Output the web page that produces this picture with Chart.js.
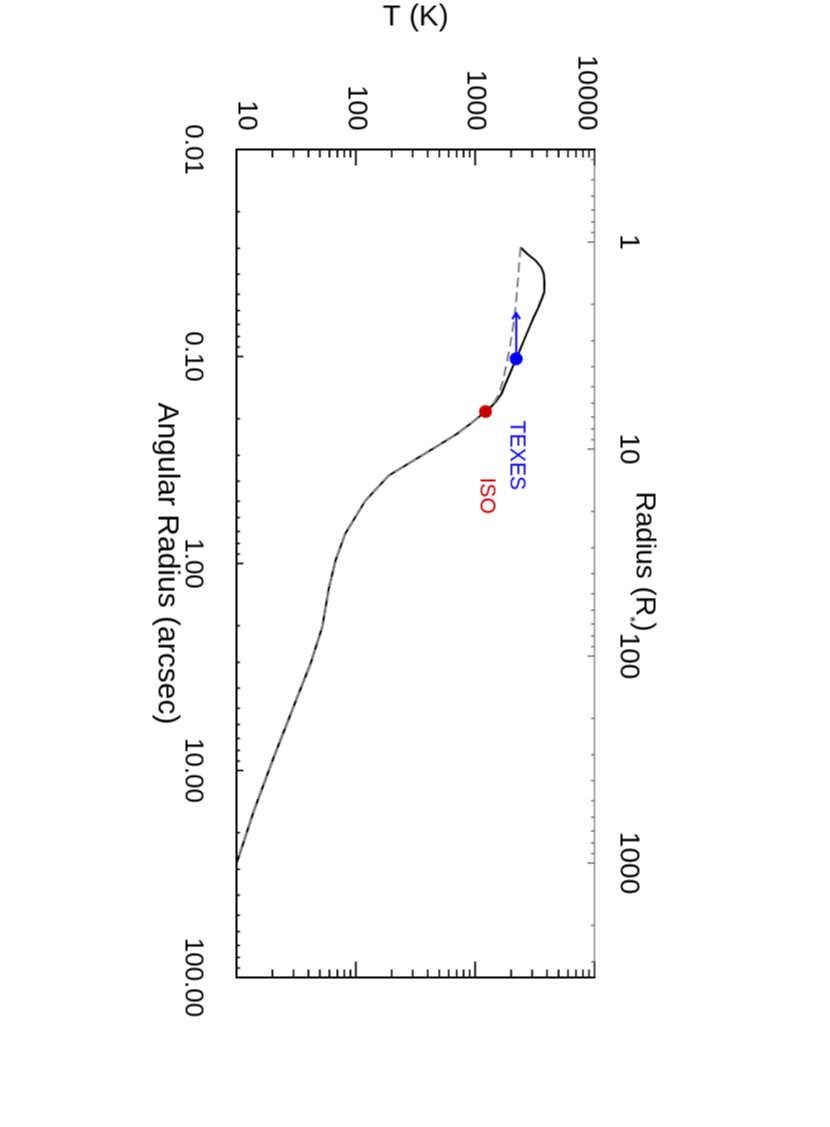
<!DOCTYPE html>
<html>
<head>
<meta charset="utf-8">
<script src="https://cdn.jsdelivr.net/npm/chart.js@4.4.1/dist/chart.umd.min.js"></script>
<style>
  html, body { margin: 0; padding: 0; background: #ffffff; overflow: hidden; width: 830px; height: 1127px; }
  #wrap { position: absolute; left: -148.5px; top: 148.5px; width: 1127px; height: 830px;
          transform: rotate(90deg); transform-origin: 50% 50%; background: #ffffff; }
</style>
</head>
<body>
<div id="wrap"><canvas id="chart" width="1127" height="830"></canvas></div>
<script>
// ---------------- data ----------------
// solid model temperature profile: angular radius (arcsec) vs T (K)
const solidRadius = [0.0297, 0.0319, 0.0344, 0.0371, 0.0398, 0.0437, 0.0489, 0.0520, 0.0573, 0.0646,
                     0.0734, 0.0837, 0.0935, 0.1026, 0.119, 0.1356, 0.1514, 0.1663, 0.1758, 0.1845,
                     0.2113, 0.236, 0.278, 0.3757, 0.4963, 0.716, 0.967, 1.325, 2.03, 3.05,
                     4.43, 8.63, 15.6, 27.7];
const solidTemp   = [2399, 2729, 3206, 3573, 3758, 3811, 3793, 3646, 3414, 3097,
                     2816, 2557, 2366, 2207, 1977, 1795, 1663, 1480, 1346, 1222,
                     914, 707, 448, 189, 120.5, 81.8, 67.6, 59.4, 52.3, 41.7,
                     32.3, 20.5, 14.0, 10.1];
// dashed (grey) alternative profile
const dashedRadius = [0.0297, 0.0414, 0.0517, 0.0622, 0.0749, 0.0901, 0.1084, 0.1306, 0.1513, 0.1663,
                      0.1845, 0.2113, 0.236, 0.278, 0.3757, 0.4963, 0.716, 0.967, 1.325, 2.03,
                      3.05, 4.43, 8.63, 15.6, 27.7];
const dashedTemp   = [2399, 2295, 2220, 2148, 2055, 1951, 1830, 1718, 1578, 1452,
                      1222, 914, 707, 448, 189, 120.5, 81.8, 67.6, 59.4, 52.3,
                      41.7, 32.3, 20.5, 14.0, 10.1];
// measurements
const texesRadius = [0.1026];
const texesTemp   = [2207];
const isoRadius   = [0.1845];
const isoTemp     = [1222];
// TEXES lower-limit arrow (towards smaller radius)
const arrowRadius = [0.1026, 0.0617];
const arrowTemp   = [2207, 2207];
// annotation labels and their anchors (data coordinates)
const noteTexts   = ['TEXES', 'ISO'];
const noteRadius  = [0.204, 0.384];
const noteTemp    = [1977, 1108];
// axes
const angularTickValues = [0.01, 0.1, 1, 10, 100];
const angularTickLabels = ['0.01', '0.10', '1.00', '10.00', '100.00'];
const tempTickValues    = [10, 100, 1000, 10000];
const tempTickLabels    = ['10', '100', '1000', '10000'];
const radiusTickValues  = [1, 10, 100, 1000];
const radiusTickLabels  = ['1', '10', '100', '1000'];
const arcsecPerRstar    = 0.028;   // 1 R* in arcsec
const angularRange      = [0.01, 100];
const tempRange         = [10, 10000];

// ---------------- fonts ----------------
const probe = document.createElement('canvas').getContext('2d');
probe.font = '100px "Liberation Sans Narrow", monospace';
const wN = probe.measureText('10000 TEXES').width;
probe.font = '100px monospace';
const wM = probe.measureText('10000 TEXES').width;
const hasNarrow = Math.abs(wN - wM) > 1;
const REG = '"Liberation Sans", Arial, Helvetica, sans-serif';
const NAR = hasNarrow ? '"Liberation Sans Narrow", "Liberation Sans", Arial, sans-serif' : REG;
const NS = hasNarrow ? 1 : 0.85;
Chart.defaults.font.family = REG;
Chart.defaults.color = '#000000';

// ---------------- helpers ----------------
const zip = (xs, ys) => xs.map((x, i) => ({ x: x, y: ys[i] }));
function logTicks(min, max) {
  const out = [];
  const e0 = Math.floor(Math.log10(min)), e1 = Math.ceil(Math.log10(max));
  for (let e = e0; e <= e1; e++) {
    for (let m = 1; m <= 9; m++) {
      const v = m * Math.pow(10, e);
      if (v >= min * (1 - 1e-9) && v <= max * (1 + 1e-9)) out.push({ value: v, major: m === 1 });
    }
  }
  return out;
}
function lookup(values, labels, v) {
  const i = values.findIndex(t => Math.abs(t - v) / t < 1e-6);
  return i < 0 ? '' : labels[i];
}

// ---------------- frame / ticks / annotations plugin ----------------
const framePlugin = {
  id: 'frame',
  afterDatasetsDraw(chart) {
    const { ctx, chartArea: a, scales } = chart;
    const sx = scales.x, sy = scales.y, sx2 = scales.x2;
    ctx.save();
    ctx.lineCap = 'butt';
    // inward tick marks, black axes
    ctx.strokeStyle = '#000000';
    ctx.lineWidth = 1.6;
    ctx.beginPath();
    sx.ticks.forEach(t => {
      const p = sx.getPixelForValue(t.value), L = t.major ? 7 : 3.5;
      ctx.moveTo(p, a.bottom); ctx.lineTo(p, a.bottom - L);
    });
    sy.ticks.forEach(t => {
      const p = sy.getPixelForValue(t.value), L = t.major ? 16 : 8;
      ctx.moveTo(a.left, p); ctx.lineTo(a.left + L, p);
      ctx.moveTo(a.right, p); ctx.lineTo(a.right - L, p);
    });
    ctx.stroke();
    // top (R*) axis in grey
    ctx.strokeStyle = '#555555';
    ctx.lineWidth = 1.2;
    ctx.beginPath();
    sx2.ticks.forEach(t => {
      const p = sx2.getPixelForValue(t.value), L = t.major ? 7 : 3.5;
      ctx.moveTo(p, a.top); ctx.lineTo(p, a.top + L);
    });
    ctx.moveTo(a.left, a.top); ctx.lineTo(a.right, a.top);
    ctx.stroke();
    // black frame
    ctx.strokeStyle = '#000000';
    ctx.lineWidth = 2;
    ctx.beginPath();
    ctx.moveTo(a.left, a.top - 1); ctx.lineTo(a.left, a.bottom);
    ctx.lineTo(a.right, a.bottom); ctx.lineTo(a.right, a.top - 1);
    ctx.stroke();

    // arrow head at the end of the TEXES arrow
    const tipX = sx.getPixelForValue(arrowRadius[1]);
    const tipY = sy.getPixelForValue(arrowTemp[1]);
    ctx.strokeStyle = '#0000ff';
    ctx.lineWidth = 2;
    ctx.beginPath();
    ctx.moveTo(tipX + 6, tipY - 4); ctx.lineTo(tipX, tipY); ctx.lineTo(tipX + 6, tipY + 4);
    ctx.stroke();

    // annotation texts
    const noteColors = ['#0000ff', '#cc0000'];
    ctx.textAlign = 'left';
    ctx.textBaseline = 'alphabetic';
    ctx.font = (25 * NS) + 'px ' + NAR;
    noteTexts.forEach((txt, i) => {
      ctx.fillStyle = noteColors[i];
      ctx.fillText(txt, sx.getPixelForValue(noteRadius[i]), sy.getPixelForValue(noteTemp[i]));
    });

    // top axis title  "Radius (R*)"  with subscript asterisk
    const F = 33 * NS;
    const cx = (a.left + a.right) / 2 - 2, base = 194;
    ctx.fillStyle = '#000000';
    const p1 = 'Radius (R', p2 = '*', p3 = ')';
    ctx.font = F + 'px ' + NAR;
    const w1 = ctx.measureText(p1).width, w3 = ctx.measureText(p3).width;
    ctx.font = (F * 0.55) + 'px ' + NAR;
    const w2 = ctx.measureText(p2).width;
    const x0 = cx - (w1 + w2 + w3) / 2;
    ctx.font = F + 'px ' + NAR;
    ctx.fillText(p1, x0, base);
    ctx.font = (F * 0.55) + 'px ' + NAR;
    ctx.fillText(p2, x0 + w1, base + 0.38 * F);
    ctx.font = F + 'px ' + NAR;
    ctx.fillText(p3, x0 + w1 + w2, base);
    ctx.restore();
  }
};

// ---------------- chart ----------------
new Chart(document.getElementById('chart'), {
  type: 'line',
  data: {
    datasets: [
      { label: 'TEXES', data: zip(texesRadius, texesTemp), showLine: false, pointRadius: 6.5,
        pointBackgroundColor: '#0000ff', pointBorderWidth: 0, pointHoverRadius: 6.5, order: 0 },
      { label: 'ISO', data: zip(isoRadius, isoTemp), showLine: false, pointRadius: 6.5,
        pointBackgroundColor: '#cc0000', pointBorderWidth: 0, pointHoverRadius: 6.5, order: 0 },
      { label: 'TEXES limit', data: zip(arrowRadius, arrowTemp), borderColor: '#0000ff', borderWidth: 2,
        pointRadius: 0, tension: 0, order: 1 },
      { label: 'model (dashed)', data: zip(dashedRadius, dashedTemp), borderColor: '#808080', borderWidth: 2,
        borderDash: [10, 5], pointRadius: 0, tension: 0, order: 2 },
      { label: 'model', data: zip(solidRadius, solidTemp), borderColor: '#000000', borderWidth: 2,
        pointRadius: 0, tension: 0, order: 3 }
    ]
  },
  options: {
    responsive: false,
    devicePixelRatio: 1,
    animation: false,
    events: [],
    layout: { padding: { left: 0, right: 150, top: 0, bottom: 0 } },
    plugins: { legend: { display: false }, tooltip: { enabled: false } },
    scales: {
      x: {
        type: 'logarithmic', position: 'bottom', min: angularRange[0], max: angularRange[1], bounds: 'data',
        grid: { display: false }, border: { display: false },
        afterBuildTicks: s => { s.ticks = logTicks(angularRange[0], angularRange[1]); },
        afterFit: s => { s.height = 236; },
        ticks: { autoSkip: false, maxRotation: 0, minRotation: 0, padding: 21,
                 font: { size: 26, family: REG, lineHeight: '30px' }, color: '#000000',
                 callback: v => lookup(angularTickValues, angularTickLabels, v) },
        title: { display: true, text: 'Angular Radius (arcsec)', color: '#000000',
                 font: { size: 30, family: REG, lineHeight: '36px' }, padding: { top: 0, bottom: 148.7 } }
      },
      x2: {
        type: 'logarithmic', position: 'top', axis: 'x',
        min: angularRange[0] / arcsecPerRstar, max: angularRange[1] / arcsecPerRstar, bounds: 'data',
        grid: { display: false }, border: { display: false },
        afterBuildTicks: s => { s.ticks = logTicks(angularRange[0] / arcsecPerRstar, angularRange[1] / arcsecPerRstar); },
        afterFit: s => { s.height = 236; },
        ticks: { autoSkip: false, maxRotation: 0, minRotation: 0, padding: 11,
                 font: { size: 33 * NS, family: NAR, lineHeight: '30px' }, color: '#000000',
                 callback: v => lookup(radiusTickValues, radiusTickLabels, v) }
      },
      y: {
        type: 'logarithmic', position: 'left', min: tempRange[0], max: tempRange[1], bounds: 'data',
        grid: { display: false }, border: { display: false },
        afterBuildTicks: s => { s.ticks = logTicks(tempRange[0], tempRange[1]); },
        afterFit: s => { s.width = 149; },
        ticks: { autoSkip: false, padding: 11,
                 font: { size: 32 * NS, family: NAR, lineHeight: '18px' }, color: '#000000',
                 callback: v => {
                   const lab = lookup(tempTickValues, tempTickLabels, v);
                   if (!lab) return '';
                   if (lab === tempTickLabels[0]) return [lab, ''];
                   if (lab === tempTickLabels[tempTickLabels.length - 1]) return ['', lab];
                   return lab;
                 } },
        title: { display: true, text: 'T (K)', color: '#000000',
                 font: { size: 35 * NS, family: NAR, lineHeight: '34px' }, padding: { top: 0, bottom: 0 } }
      }
    }
  },
  plugins: [framePlugin]
});
</script>
</body>
</html>
